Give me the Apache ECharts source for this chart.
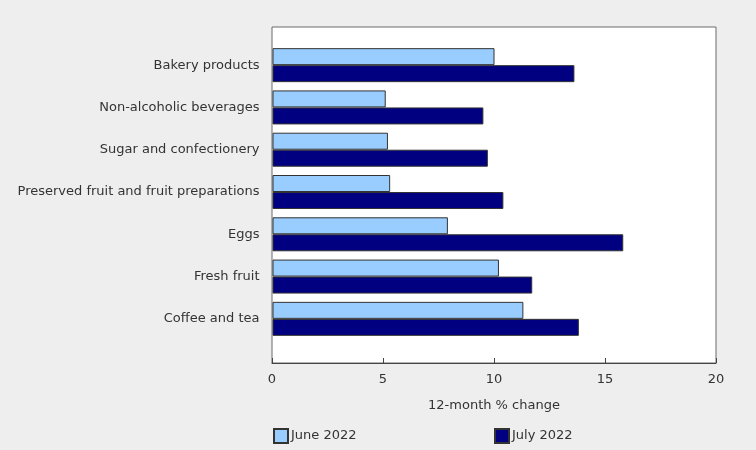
<!DOCTYPE html>
<html><head><meta charset="utf-8">
<script src="https://cdn.jsdelivr.net/npm/echarts@6/dist/echarts.min.js"></script>
<style>html,body{margin:0;padding:0;background:#eeeeee;}#c{width:756px;height:450px;}</style>
</head><body><div id="c"></div>
<script>
const categories = ["Bakery products","Non-alcoholic beverages","Sugar and confectionery","Preserved fruit and fruit preparations","Eggs","Fresh fruit","Coffee and tea"];
const june2022 = [10.0, 5.1, 5.2, 5.3, 7.9, 10.2, 11.3];
const july2022 = [13.6, 9.5, 9.7, 10.4, 15.8, 11.7, 13.8];
const xTicks = [0, 5, 10, 15, 20];
const seriesNames = ["June 2022", "July 2022"];
const xName = "12-month % change";

const font = "DejaVu Sans, Verdana, sans-serif";
const fs = 13;
const chart = echarts.init(document.getElementById('c'));
chart.setOption({
  backgroundColor: '#eeeeee',
  animation: false,
  grid: [
    {left: 272.5, width: 444, top: 44, height: 296, containLabel: false},
    {left: 272, width: 444, top: 27, height: 336, show: true, backgroundColor: '#ffffff', borderColor: '#6b6b6b', borderWidth: 1, z: 0}
  ],
  xAxis: [
    {gridIndex: 0, type: 'value', min: xTicks[0], max: xTicks[xTicks.length-1], interval: 5, show: false},
    {gridIndex: 1, type: 'value', min: xTicks[0], max: xTicks[xTicks.length-1], interval: 5,
     name: xName, nameLocation: 'middle', nameGap: 36,
     nameTextStyle: {fontFamily: font, fontSize: fs, color: '#333'},
     axisLine: {show: true, lineStyle: {color: '#444', width: 1}},
     axisTick: {show: true, inside: true, length: 5, lineStyle: {color: '#444'}},
     axisLabel: {fontFamily: font, fontSize: fs, color: '#333', margin: 10},
     splitLine: {show: false}}
  ],
  yAxis: [
    {gridIndex: 0, type: 'category', data: categories, inverse: true,
     axisLine: {show: false}, axisTick: {show: false},
     axisLabel: {fontFamily: font, fontSize: fs, color: '#333', margin: 13}},
    {gridIndex: 1, type: 'value', show: false}
  ],
  legend: [
    {data: [seriesNames[0]], left: 273, top: 428, itemWidth: 14, itemHeight: 14, itemGap: 5,
     icon: 'rect', textStyle: {fontFamily: font, fontSize: fs, color: '#333', padding: [0,0,0,-2]}, padding: 0},
    {data: [seriesNames[1]], left: 494, top: 428, itemWidth: 14, itemHeight: 14, itemGap: 5,
     icon: 'rect', textStyle: {fontFamily: font, fontSize: fs, color: '#333', padding: [0,0,0,-2]}, padding: 0}
  ],
  series: [
    {name: seriesNames[0], type: 'bar', xAxisIndex: 0, yAxisIndex: 0, data: june2022,
     barWidth: 17, barGap: '0%',
     itemStyle: {color: '#99ccff', borderColor: '#333333', borderWidth: 1}},
    {name: seriesNames[1], type: 'bar', xAxisIndex: 0, yAxisIndex: 0, data: july2022,
     barWidth: 17, barGap: '0%',
     itemStyle: {color: '#000080', borderColor: '#333333', borderWidth: 1}}
  ]
});
</script></body></html>
